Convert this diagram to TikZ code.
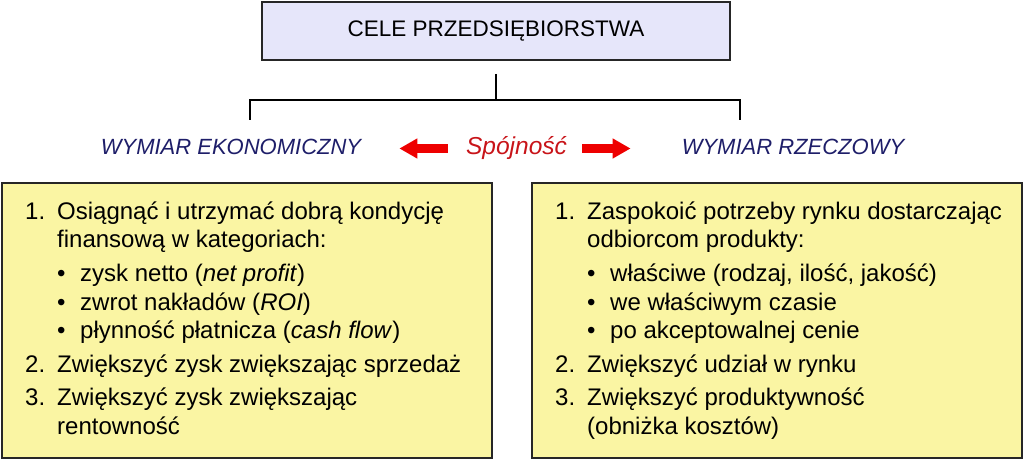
\documentclass[tikz,border=0pt]{standalone}
\usepackage{fontspec}
\setmainfont{Liberation Sans}
\usepackage{xcolor}
\usetikzlibrary{arrows.meta}
\usetikzlibrary{calc}
\definecolor{goalfill}{RGB}{230,230,250}
\definecolor{listfill}{RGB}{250,245,163}
\definecolor{dimnavy}{RGB}{30,30,105}
\definecolor{cohred}{RGB}{200,20,25}
\definecolor{arrred}{RGB}{238,0,0}
\newcommand\num[1]{\makebox[32pt][l]{#1}}
\newcommand\cont{\hspace*{32pt}}
\newcommand\bul{\hspace*{32pt}\makebox[23pt][l]{\textbullet}}
\tikzstyle{goal}=[draw=black!85,line width=1.6pt,fill=goalfill,minimum width=468pt,minimum height=58pt,font=\fontsize{22.5}{27}\selectfont]
\tikzstyle{listbox}=[draw=black!85,line width=1.6pt,fill=listfill,minimum width=490pt,minimum height=275pt]
\tikzstyle{list}=[anchor=base west,inner sep=0pt,align=left,font=\fontsize{24}{29}\selectfont]
\tikzstyle{dim}=[anchor=base,inner sep=0pt,text height=17pt,text depth=4pt,font=\fontsize{22}{26}\selectfont\itshape]
\tikzstyle{tree}=[line width=1.4pt,black]
\tikzstyle{blockarrow}=[line width=8.5pt,arrred,-{Triangle[length=18pt,width=19pt]}]

\begin{document}
\begin{tikzpicture}[x=1pt,y=1pt]
	\useasboundingbox (0,0) rectangle (1024,460);
	\node[goal] (goal) at (496,429) {CELE PRZEDSIĘBIORSTWA};
	\coordinate (hub) at (496,360);
	\coordinate (econtop) at (250,340);
	\coordinate (realtop) at (740,340);
	\draw[tree] ([yshift=-13pt]goal.south) -- (hub);
	\draw[tree] (econtop) |- (hub) -| (realtop);
	\node[dim,dimnavy] (econdim) at (231,305) {WYMIAR EKONOMICZNY};
	\node[dim,dimnavy] (realdim) at (793,305) {WYMIAR RZECZOWY};
	\node[dim,cohred,font=\fontsize{24.5}{28}\selectfont\itshape] (coh) at (516.5,305) {Spójność};
	\draw[blockarrow,shorten <=18pt,shorten >=38pt] (coh) -- (econdim);
	\draw[blockarrow,shorten <=15pt,shorten >=51pt] (coh) -- (realdim);
	\node[listbox] (econbox) at (247,139.5) {};
	\node[listbox] (realbox) at (777,139.5) {};
	\node[list] (econlist) at (25,26) {%
		\num{1.}Osiągnąć i utrzymać dobrą kondycję\\
		\cont finansową w kategoriach:\\[4pt]
		\bul zysk netto (\textit{net profit})\\
		\bul zwrot nakładów (\textit{ROI})\\
		\bul płynność płatnicza (\textit{cash flow})\\[4pt]
		\num{2.}Zwiększyć zysk zwiększając sprzedaż\\[4pt]
		\num{3.}Zwiększyć zysk zwiększając\\
		\cont rentowność};
	\node[list] (reallist) at (555,26) {%
		\num{1.}Zaspokoić potrzeby rynku dostarczając\\
		\cont odbiorcom produkty:\\[4pt]
		\bul właściwe (rodzaj, ilość, jakość)\\
		\bul we właściwym czasie\\
		\bul po akceptowalnej cenie\\[4pt]
		\num{2.}Zwiększyć udział w rynku\\[4pt]
		\num{3.}Zwiększyć produktywność\\
		\cont (obniżka kosztów)};
\end{tikzpicture}
\end{document}
